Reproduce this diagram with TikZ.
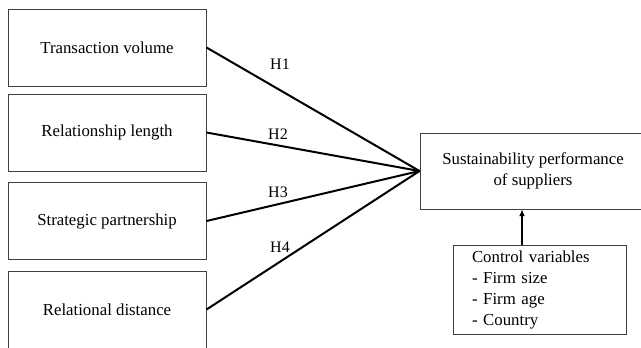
\documentclass[tikz,border=0pt]{standalone}
\usepackage{fontspec}
\setmainfont{Liberation Serif}
\usetikzlibrary{arrows.meta}
\tikzset{every picture/.style={line width=0.75pt}}
\tikzset{
  varbox/.style={draw=black!75, line width=0.75pt, minimum width=148.5pt, minimum height=57.75pt, inner sep=0pt, align=center, font=\fontsize{12.6}{15.5}\selectfont},
  outbox/.style={varbox, minimum width=169.5pt, minimum height=57pt},
  ctrlbox/.style={draw=black!75, line width=0.75pt, minimum width=129.75pt, minimum height=66.75pt, inner xsep=14.25pt, inner ysep=0pt, text width=101.25pt, align=left, font=\fontsize{12.6}{15.75}\selectfont},
  hyp/.style={inner sep=0.75pt, font=\fontsize{12}{14}\selectfont},
  link/.style={line width=1.5pt},
}

\begin{document}
\begin{tikzpicture}[x=0.75pt,y=0.75pt,yscale=-1,xscale=1]
\useasboundingbox (0,0) rectangle (641,347);

%Shape: Rectangle (independent variables)
\node [varbox] (tv) at (107,47.5) {Transaction volume};
\node [varbox] (rl) at (107,132.5) {Relationship length};
\node [varbox] (sp) at (107,221) {Strategic partnership};
\node [varbox] (rd) at (107,309.5) {Relational distance};

%Shape: Rectangle (outcome)
\node [outbox] (perf) at (533,171) {Sustainability performance\\of suppliers};

%Shape: Rectangle (controls)
\node [ctrlbox] (ctrl) at (539.5,289.5) {Control variables\\- Firm size\\- Firm age\\- Country};

%Straight Lines
\draw [link] (tv.east) -- (perf.west);
\draw [link] (rl.east) -- (perf.west);
\draw [link] (sp.east) -- (perf.west);
\draw [link] (rd.east) -- (perf.west);
\draw [link, -{Latex[length=5pt,width=4.5pt]}] ([xshift=-13.125pt]ctrl.north) -- ([xshift=-13.125pt]ctrl.north |- perf.south);

% Text Node
\node [hyp] (h1) at (280,64) {H1};
% Text Node
\node [hyp] (h2) at (278,134) {H2};
% Text Node
\node [hyp] (h3) at (278,192) {H3};
% Text Node
\node [hyp] (h4) at (280,247) {H4};

\end{tikzpicture}
\end{document}
